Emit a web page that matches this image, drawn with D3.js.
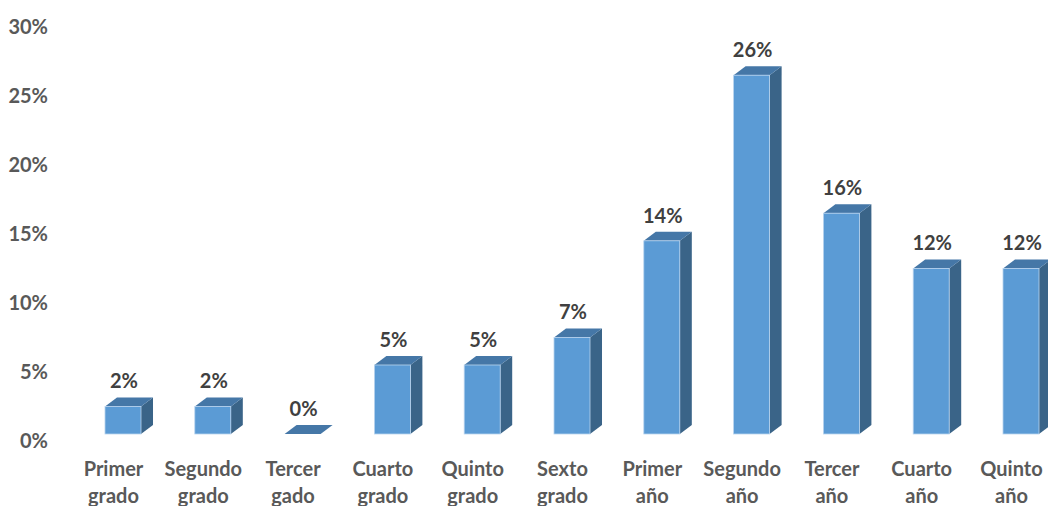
<!DOCTYPE html>
<html>
<head>
<meta charset="utf-8">
<script src="https://cdn.jsdelivr.net/npm/d3@7"></script>
<style>
  html, body { margin: 0; padding: 0; background: #ffffff; }
  svg { display: block; }
</style>
</head>
<body>
<div id="chart"></div>
<script>
// Grade levels (two-line labels) and their share of students
const categories = [
  ["Primer", "grado"], ["Segundo", "grado"], ["Tercer", "gado"],
  ["Cuarto", "grado"], ["Quinto", "grado"], ["Sexto", "grado"],
  ["Primer", "año"], ["Segundo", "año"], ["Tercer", "año"],
  ["Cuarto", "año"], ["Quinto", "año"]
];
const values = [2, 2, 0, 5, 5, 7, 14, 26, 16, 12, 12];
const tickValues = [0, 5, 10, 15, 20, 25, 30];
const tickLabels = ["0%", "5%", "10%", "15%", "20%", "25%", "30%"];

const W = 1048, H = 506;
const FONT = "Lato, 'Open Sans', sans-serif";
const depthX = 12, depthY = 9;
const colors = { front: "#5b9bd5", top: "#4577a7", side: "#3a6488", edge: "#b9d4ee" };

const svg = d3.select("#chart").append("svg")
  .attr("width", W).attr("height", H);

const keys = categories.map((c, i) => i);
const x = d3.scaleBand()
  .domain(keys)
  .range([78.1, 1065.9])
  .paddingInner(0.599)
  .paddingOuter(0.2995);

const y = d3.scaleLinear().domain([0, 30]).range([434, 20]);

// Value axis labels (no line, no gridlines)
const yAxis = svg.append("g");
yAxis.selectAll("text")
  .data(tickValues)
  .join("text")
  .attr("x", 48)
  .attr("y", d => y(d) + 7)
  .attr("dy", "0.35em")
  .attr("text-anchor", "end")
  .attr("font-family", FONT)
  .attr("font-weight", 700)
  .attr("font-size", 20)
  .attr("fill", "#595959")
  .text((d, i) => tickLabels[i]);

// 3D bars: side, top, then front face
const bars = svg.append("g").selectAll("g")
  .data(values.map((v, i) => ({ v, i })))
  .join("g");

bars.append("path")
  .attr("fill", colors.side)
  .attr("d", d => {
    const x1 = x(d.i) + x.bandwidth(), yt = y(d.v), yb = y(0);
    return `M${x1},${yt}L${x1 + depthX},${yt - depthY}L${x1 + depthX},${yb - depthY}L${x1},${yb}Z`;
  });

bars.append("path")
  .attr("fill", colors.top)
  .attr("d", d => {
    const x0 = x(d.i), x1 = x0 + x.bandwidth(), yt = y(d.v);
    return `M${x0},${yt}L${x0 + depthX},${yt - depthY}L${x1 + depthX},${yt - depthY}L${x1},${yt}Z`;
  });

bars.filter(d => d.v > 0).append("rect")
  .attr("x", d => x(d.i))
  .attr("y", d => y(d.v))
  .attr("width", x.bandwidth())
  .attr("height", d => y(0) - y(d.v))
  .attr("fill", colors.front)
  .attr("stroke", colors.edge)
  .attr("stroke-width", 0.8);

// Value labels above each bar
bars.append("text")
  .attr("x", d => x(d.i) + x.bandwidth() / 2 + 1)
  .attr("y", d => y(d.v) - 18)
  .attr("text-anchor", "middle")
  .attr("font-family", FONT)
  .attr("font-weight", 700)
  .attr("font-size", 20)
  .attr("fill", "#404040")
  .text(d => d.v + "%");

// Category labels on two lines
const cats = svg.append("g").selectAll("text")
  .data(categories.map((c, i) => ({ c, i })))
  .join("text")
  .attr("x", d => x(d.i) + x.bandwidth() / 2 - 9.5)
  .attr("y", 476)
  .attr("text-anchor", "middle")
  .attr("font-family", FONT)
  .attr("font-weight", 700)
  .attr("font-size", 20)
  .attr("fill", "#595959");

cats.selectAll("tspan")
  .data(d => d.c.map((t, k) => ({ t, k, cx: x(d.i) + x.bandwidth() / 2 - 9.5 })))
  .join("tspan")
  .attr("x", d => d.cx)
  .attr("dy", d => d.k === 0 ? 0 : 27)
  .text(d => d.t);
</script>
</body>
</html>
